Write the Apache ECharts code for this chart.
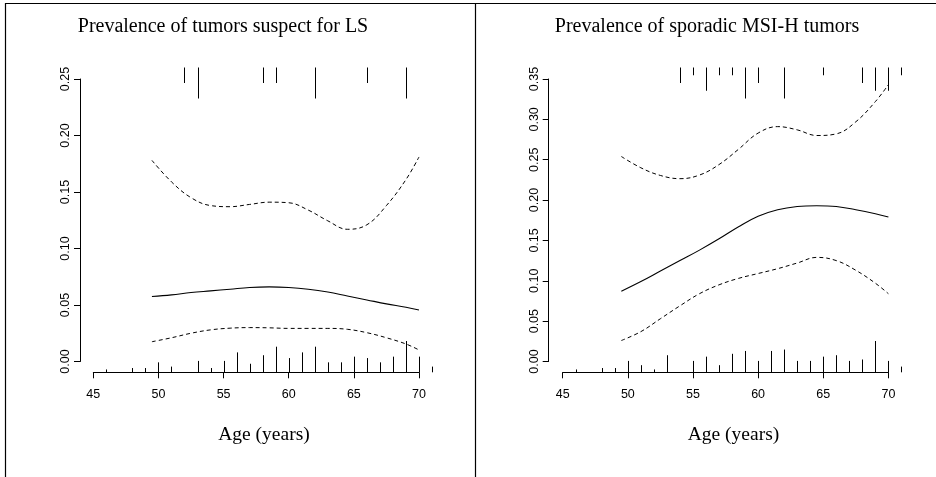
<!DOCTYPE html>
<html>
<head>
<meta charset="utf-8">
<script src="https://cdn.jsdelivr.net/npm/echarts@6/dist/echarts.min.js"></script>
<style>
html,body{margin:0;padding:0;background:#fff;}
#chart{width:936px;height:477px;}
</style>
</head>
<body>
<div id="chart"></div>
<script>
// ---------- data ----------
const curveAges = [49.5, 51, 52.5, 54, 55.5, 57, 58.5, 60, 61.5, 63, 64.5, 66, 67.5, 69, 70];

const lsEstimate = [0.0575, 0.059, 0.061, 0.0625, 0.064, 0.0655, 0.066, 0.0655, 0.064, 0.0615, 0.058, 0.0545, 0.051, 0.048, 0.0455];
const lsUpper    = [0.178, 0.159, 0.145, 0.138, 0.137, 0.139, 0.141, 0.1405, 0.134, 0.1245, 0.117, 0.121, 0.138, 0.161, 0.181];
const lsLower    = [0.0175, 0.021, 0.025, 0.028, 0.0295, 0.030, 0.0298, 0.0293, 0.0293, 0.0293, 0.0285, 0.0255, 0.021, 0.0155, 0.0102];

const msiEstimate = [0.087, 0.099, 0.112, 0.125, 0.138, 0.152, 0.167, 0.180, 0.188, 0.192, 0.193, 0.192, 0.188, 0.183, 0.179];
const msiUpper    = [0.254, 0.240, 0.2305, 0.2265, 0.231, 0.244, 0.263, 0.283, 0.291, 0.287, 0.280, 0.282, 0.297, 0.322, 0.343];
const msiLower    = [0.026, 0.037, 0.053, 0.069, 0.084, 0.095, 0.103, 0.109, 0.115, 0.122, 0.129, 0.125, 0.113, 0.097, 0.084];

// spike histograms (frequency per age)
const lsBottomAges   = [46, 48, 49, 50, 51, 53, 54, 55, 56, 57, 58, 59, 60, 61, 62, 63, 64, 65, 66, 67, 68, 69, 70, 71];
const lsBottomCounts = [2, 3, 3, 7, 4, 8, 3, 8, 14, 6, 12, 18, 10, 14, 18, 7, 7, 11, 10, 7, 11, 22, 11, 4];
const lsTopAges      = [52, 53, 58, 59, 62, 66, 69];
const lsTopCounts    = [1, 2, 1, 1, 2, 1, 2];

const msiBottomAges   = [46, 48, 49, 50, 51, 52, 53, 55, 56, 57, 58, 59, 60, 61, 62, 63, 64, 65, 66, 67, 68, 69, 70, 71];
const msiBottomCounts = [2, 3, 3, 8, 5, 2, 12, 8, 11, 5, 13, 15, 8, 15, 16, 8, 8, 11, 12, 8, 9, 22, 8, 4];
const msiTopAges      = [54, 55, 56, 57, 58, 59, 60, 62, 65, 68, 69, 70, 71];
const msiTopCounts    = [2, 1, 3, 1, 1, 4, 2, 4, 1, 2, 3, 3, 1];

const xTickMin = 45, xTickMax = 70, xTickStep = 5;
const lsYMax = 0.25, msiYMax = 0.35, yStep = 0.05;

const titles = ['Prevalence of tumors suspect for LS', 'Prevalence of sporadic MSI-H tumors'];
const xAxisTitle = 'Age (years)';

// ---------- helpers ----------
const zip = (a, b) => a.map((v, i) => [v, b[i]]);
const sansFont = 'Liberation Sans, Arial, Helvetica, sans-serif';
const serifFont = '"Liberation Serif", "Times New Roman", serif';

function spikeRender(params, api) {
  const x = api.value(0), c = api.value(1);
  const p0 = api.coord([x, 0]);
  const p1 = api.coord([x, c]);
  const px = Math.round(p0[0]) + 0.5;
  return {
    type: 'line',
    shape: {x1: px, y1: p0[1], x2: px, y2: p1[1]},
    style: {stroke: '#000', lineWidth: 1}
  };
}

// panel geometry
const panels = [
  {plotLeft: 93.3, yOffset: 13.3, yMax: lsYMax, est: lsEstimate, up: lsUpper, lo: lsLower,
   bA: lsBottomAges, bC: lsBottomCounts, tA: lsTopAges, tC: lsTopCounts, titleX: 223, labelX: 264},
  {plotLeft: 562.7, yOffset: 14, yMax: msiYMax, est: msiEstimate, up: msiUpper, lo: msiLower,
   bA: msiBottomAges, bC: msiBottomCounts, tA: msiTopAges, tC: msiTopCounts, titleX: 707, labelX: 733.5}
];
const plotWidth = 325.7;

const grid = [], xAxis = [], yAxis = [], series = [], graphic = [];

panels.forEach((p, k) => {
  const g0 = grid.length;
  grid.push({left: p.plotLeft, top: 79, width: plotWidth, height: 282.5});
  grid.push({left: p.plotLeft, top: 341, width: plotWidth, height: 31.3});
  grid.push({left: p.plotLeft, top: 67.5, width: plotWidth, height: 31});

  const hiddenX = (gi) => ({type: 'value', gridIndex: gi, min: xTickMin, max: xTickMax, show: false});
  xAxis.push(hiddenX(g0));
  xAxis.push({
    type: 'value', gridIndex: g0 + 1, min: xTickMin, max: xTickMax, interval: xTickStep,
    axisLine: {show: true, lineStyle: {color: '#000', width: 1}},
    axisTick: {show: true, inside: false, length: 6, lineStyle: {color: '#000'}},
    axisLabel: {color: '#000', fontFamily: sansFont, fontSize: 12.5, margin: 15.5},
    splitLine: {show: false}
  });
  xAxis.push(hiddenX(g0 + 2));

  yAxis.push({
    type: 'value', gridIndex: g0, min: 0, max: p.yMax, interval: yStep, offset: p.yOffset,
    axisLine: {show: true, lineStyle: {color: '#000', width: 1}},
    axisTick: {show: true, inside: false, length: 6, lineStyle: {color: '#000'}},
    axisLabel: {color: '#000', fontFamily: sansFont, fontSize: 12.5, rotate: 90, margin: 8,
                formatter: v => v.toFixed(2)},
    splitLine: {show: false}
  });
  yAxis.push({type: 'value', gridIndex: g0 + 1, min: 0, max: Math.max(...p.bC), show: false});
  yAxis.push({type: 'value', gridIndex: g0 + 2, min: 0, max: Math.max(...p.tC), inverse: true, show: false});

  const lineBase = {type: 'line', xAxisIndex: g0, yAxisIndex: g0, smooth: 0.4, showSymbol: false,
                    symbol: 'none', silent: true, animation: false, clip: false};
  series.push(Object.assign({}, lineBase, {data: zip(curveAges, p.est),
    lineStyle: {color: '#000', width: 1.1}}));
  series.push(Object.assign({}, lineBase, {data: zip(curveAges, p.up),
    lineStyle: {color: '#000', width: 1, type: [4, 3]}}));
  series.push(Object.assign({}, lineBase, {data: zip(curveAges, p.lo),
    lineStyle: {color: '#000', width: 1, type: [4, 3]}}));

  series.push({type: 'custom', xAxisIndex: g0 + 1, yAxisIndex: g0 + 1, renderItem: spikeRender,
               data: zip(p.bA, p.bC), silent: true, animation: false, clip: false});
  series.push({type: 'custom', xAxisIndex: g0 + 2, yAxisIndex: g0 + 2, renderItem: spikeRender,
               data: zip(p.tA, p.tC), silent: true, animation: false, clip: false});

  graphic.push({type: 'text', silent: true, style: {text: titles[k], x: p.titleX, y: 27,
    align: 'center', verticalAlign: 'middle', font: '20px ' + serifFont, fill: '#000'}});
  graphic.push({type: 'text', silent: true, style: {text: xAxisTitle, x: p.labelX, y: 435,
    align: 'center', verticalAlign: 'middle', font: '19.5px ' + serifFont, fill: '#000'}});
});

// frame
graphic.push({type: 'polyline', silent: true, shape: {points: [[5.5, 477], [5.5, 3.5], [936, 3.5]]},
              style: {stroke: '#000', lineWidth: 1.2, fill: null}});
graphic.push({type: 'line', silent: true, shape: {x1: 475.5, y1: 3.5, x2: 475.5, y2: 477},
              style: {stroke: '#000', lineWidth: 1.2}});

const chart = echarts.init(document.getElementById('chart'), null, {renderer: 'canvas'});
chart.setOption({
  backgroundColor: '#fff',
  animation: false,
  grid, xAxis, yAxis, series, graphic
});
</script>
</body>
</html>
